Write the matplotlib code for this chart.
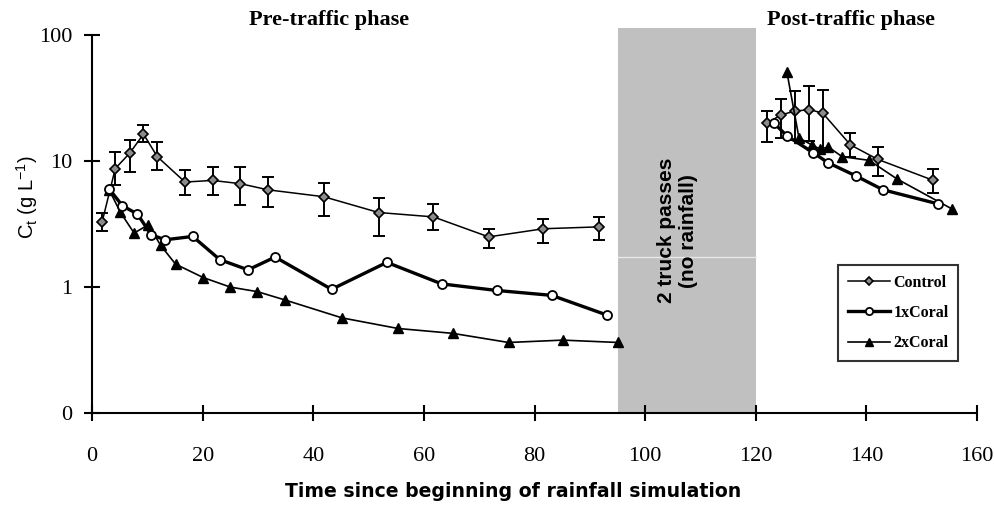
import matplotlib
matplotlib.use("Agg")
import matplotlib.pyplot as plt
import numpy as np

# ---- data ----
ctrl_pre_t = [1.8, 4.2, 6.8, 9.3, 11.8, 16.8, 21.8, 26.8, 31.8, 41.9, 51.8, 61.7, 71.7, 81.6, 91.6]
ctrl_pre_v = [3.25, 8.7, 11.5, 16.3, 10.8, 6.8, 7.0, 6.6, 5.9, 5.2, 3.9, 3.6, 2.5, 2.9, 3.0]
ctrl_pre_lo = [2.76, 6.5, 8.1, 14.0, 8.4, 5.36, 5.36, 4.47, 4.35, 3.69, 2.56, 2.81, 2.04, 2.23, 2.37]
ctrl_pre_hi = [3.9, 11.7, 14.7, 19.3, 14.0, 8.4, 8.93, 8.93, 7.44, 6.67, 5.07, 4.55, 2.90, 3.46, 3.56]

ctrl_post_t = [122.0, 124.6, 127.1, 129.7, 132.1, 137.1, 142.0, 152.1]
ctrl_post_v = [19.9, 23.2, 24.8, 25.5, 23.9, 13.4, 10.3, 7.0]
ctrl_post_lo = [14.0, 15.2, 14.7, 14.3, 12.2, 10.8, 7.6, 5.56]
ctrl_post_hi = [24.9, 30.9, 35.5, 38.9, 36.6, 16.6, 12.9, 8.7]

c1_pre_t = [3.1, 5.5, 8.2, 10.7, 13.2, 18.2, 23.1, 28.2, 33.1, 43.3, 53.3, 63.2, 73.2, 83.1, 93.1]
c1_pre_v = [5.98, 4.41, 3.79, 2.6, 2.37, 2.52, 1.65, 1.37, 1.73, 0.96, 1.57, 1.06, 0.94, 0.86, 0.60]
c1_post_t = [123.2, 125.6, 130.4, 133.0, 138.1, 143.0, 152.9]
c1_post_v = [20.1, 15.8, 11.6, 9.7, 7.6, 5.9, 4.57]

c2_pre_t = [3.1, 5.1, 7.6, 10.2, 12.4, 15.1, 20.1, 25.0, 29.9, 34.9, 45.2, 55.3, 65.2, 75.3, 85.1, 95.1]
c2_pre_v = [5.9, 3.93, 2.68, 3.12, 2.14, 1.52, 1.19, 1.0, 0.92, 0.79, 0.57, 0.47, 0.43, 0.364, 0.38, 0.364]
c2_post_t = [125.6, 127.8, 130.1, 131.6, 133.1, 135.6, 140.5, 145.5, 155.5]
c2_post_v = [51.0, 15.2, 13.4, 12.4, 12.9, 10.8, 10.1, 7.2, 4.15]

series_names = ["Control", "1xCoral", "2xCoral"]
x_ticks = [0, 20, 40, 60, 80, 100, 120, 140, 160]
y_ticks = [0.1, 1, 10, 100]
y_tick_labels = ["0", "1", "10", "100"]
traffic_start, traffic_end = 95, 120

# ---- figure ----
fig = plt.figure(figsize=(9.94, 5.05), dpi=100)
ax = fig.add_axes([0.0926, 0.1816, 0.8904, 0.7497])
ax.set_yscale("log")
ax.set_xlim(0, 160)
ax.set_ylim(0.1, 100)

# gray traffic box (extends slightly above axes)
ax.add_patch(plt.Rectangle((traffic_start, 0.1), traffic_end - traffic_start, 112 - 0.1,
                           facecolor="#c0c0c0", edgecolor="none", zorder=0, clip_on=False))
ax.plot([traffic_start, traffic_end], [1.74, 1.74], color="#e8e8e8", lw=1.0, zorder=0.5)
ax.text((traffic_start + traffic_end) / 2 - 1.6, 2.8, "2 truck passes\n(no rainfall)",
        rotation=90, ha="center", va="center", fontsize=15, fontweight="bold",
        family="Liberation Sans", linespacing=1.2, zorder=1)

serif = "Liberation Serif"

def err(v, lo, hi):
    v = np.array(v); return [v - np.array(lo), np.array(hi) - v]

for t, v, lo, hi in [(ctrl_pre_t, ctrl_pre_v, ctrl_pre_lo, ctrl_pre_hi),
                     (ctrl_post_t, ctrl_post_v, ctrl_post_lo, ctrl_post_hi)]:
    ax.errorbar(t, v, yerr=err(v, lo, hi), fmt="none", ecolor="black",
                elinewidth=1.4, capsize=4, capthick=1.4, zorder=2)
    ln_ctrl, = ax.plot(t, v, color="black", lw=1.1, marker="D", ms=5.5,
                       mfc="#8c8c8c", mec="black", mew=1.2, zorder=3)

for t, v in [(c2_pre_t, c2_pre_v), (c2_post_t, c2_post_v)]:
    ln_c2, = ax.plot(t, v, color="black", lw=1.2, marker="^", ms=7.5,
                     mfc="black", mec="black", zorder=3)

for t, v in [(c1_pre_t, c1_pre_v), (c1_post_t, c1_post_v)]:
    ln_c1, = ax.plot(t, v, color="black", lw=2.4, marker="o", ms=6.5,
                     mfc="white", mec="black", mew=1.3, zorder=4)

# axes styling
for s in ["top", "right"]:
    ax.spines[s].set_visible(False)
for s in ["left", "bottom"]:
    ax.spines[s].set_linewidth(1.5)
ax.set_xticks(x_ticks)
ax.set_xticklabels([str(x) for x in x_ticks], family=serif, fontsize=16)
ax.set_yticks(y_ticks)
ax.set_yticklabels(y_tick_labels, family=serif, fontsize=16)
ax.yaxis.set_minor_locator(matplotlib.ticker.NullLocator())
ax.tick_params(axis="both", direction="inout", length=12, width=1.5, pad=8)
ax.tick_params(axis="x", pad=18)

ax.set_xlabel("Time since beginning of rainfall simulation", family="DejaVu Sans",
              fontweight="bold", fontsize=13.6)
ax.xaxis.set_label_coords((513.5 - 92) / 885, -0.181, transform=ax.transAxes)
ax.set_ylabel(r"C$_\mathregular{t}$ (g L$^\mathregular{-1}$)", family="Liberation Sans",
              fontsize=14.5)
ax.yaxis.set_label_coords((40 - 92) / 885, 0.571, transform=ax.transAxes)

fig.text(0.331, 0.961, "Pre-traffic phase", family=serif, fontweight="bold",
         fontsize=16, ha="center", va="center")
fig.text(0.856, 0.961, "Post-traffic phase", family=serif, fontweight="bold",
         fontsize=16, ha="center", va="center")

leg = ax.legend([ln_ctrl, ln_c1, ln_c2], series_names, loc="upper left",
                bbox_to_anchor=((838.3 - 92) / 885, (413.3 - 265) / 378.6),
                borderaxespad=0,
                prop={"family": serif, "weight": "bold", "size": 11.5},
                frameon=True, fancybox=False, edgecolor="black", handlelength=2.6,
                borderpad=0.6, labelspacing=0.9, handletextpad=0.25, markerscale=0.8)
leg.get_frame().set_linewidth(1.5)

fig.savefig("out.png", dpi=100)
